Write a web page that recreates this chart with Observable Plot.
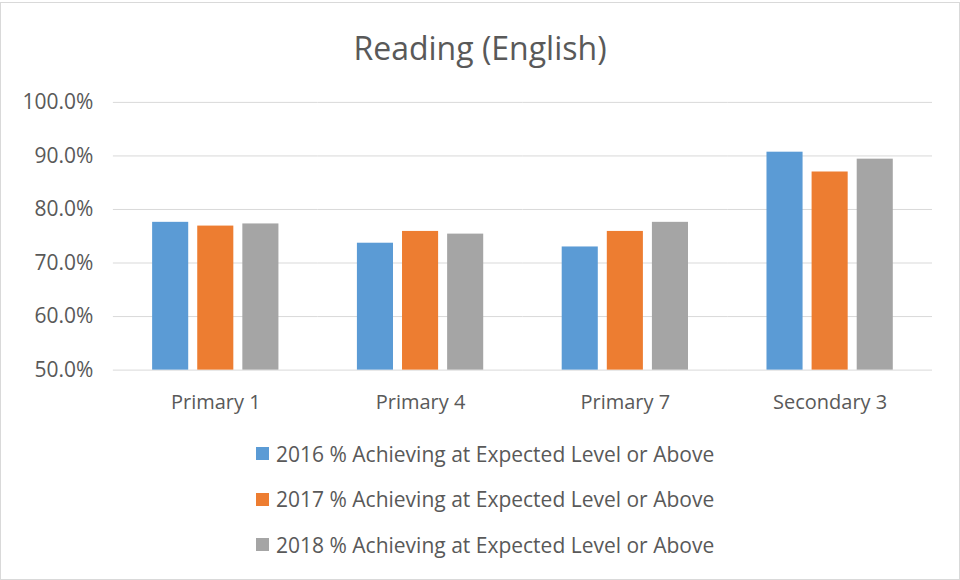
<!DOCTYPE html>
<html>
<head>
<meta charset="utf-8">
<script src="https://cdn.jsdelivr.net/npm/d3@7"></script>
<script src="https://cdn.jsdelivr.net/npm/@observablehq/plot@0.6"></script>
<style>
  html, body { margin: 0; padding: 0; background: #fff; }
  #frame { position: relative; width: 958px; height: 576px; border: 1px solid #d9d9d9; margin-top: 2px; font-family: "Open Sans", sans-serif; color: #595959; overflow: hidden; }
  #title { position: absolute; left: 0; width: 958px; top: 25px; text-align: center; font-size: 32px; line-height: 40px; }
  #chart { position: absolute; left: -1px; top: -3px; }
  #legend { position: absolute; left: 255px; top: 428px; }
  .item { display: flex; align-items: center; height: 45.5px; font-size: 21px; }
  .sw { width: 13px; height: 13px; margin-right: 7px; }
</style>
</head>
<body>
<div id="frame">
  <div id="title">Reading (English)</div>
  <div id="chart"></div>
  <div id="legend"></div>
</div>
<script>
const categories = ["Primary 1", "Primary 4", "Primary 7", "Secondary 3"];
const seriesNames = [
  "2016 % Achieving at Expected Level or Above",
  "2017 % Achieving at Expected Level or Above",
  "2018 % Achieving at Expected Level or Above"
];
const values2016 = [77.6, 73.7, 73.0, 90.7];
const values2017 = [76.9, 75.9, 75.9, 87.0];
const values2018 = [77.3, 75.4, 77.6, 89.4];
const colors = ["#5B9BD5", "#ED7D31", "#A5A5A5"];
const yTicks = [50, 60, 70, 80, 90, 100];
const baseline = 50;

const seriesValues = [values2016, values2017, values2018];
const data = [];
categories.forEach((c, i) => {
  seriesNames.forEach((s, j) => {
    data.push({category: c, series: s, value: seriesValues[j][i]});
  });
});

const chart = Plot.plot({
  width: 960,
  height: 420,
  marginLeft: 112,
  marginRight: 27,
  marginTop: 102,
  marginBottom: 50,
  style: {fontFamily: "Open Sans, sans-serif", fontSize: "20px", color: "#595959", background: "transparent"},
  fx: {domain: categories, padding: 0, label: null},
  x: {domain: seriesNames, paddingInner: 0.2, paddingOuter: 0.87, axis: null, round: false},
  y: {domain: [50, 100], label: null},
  color: {domain: seriesNames, range: colors},
  marks: [
    Plot.gridY(yTicks, {stroke: "#d9d9d9", strokeOpacity: 1, strokeWidth: 1}),
    Plot.axisY({ticks: yTicks, tickSize: 0, tickPadding: 20, tickFormat: d => d.toFixed(1) + "%", fill: "#595959", fontSize: 21, label: null}),
    Plot.axisFx({anchor: "bottom", tickSize: 0, tickPadding: 25, fill: "#595959", fontSize: 20, label: null}),
    Plot.barY(data, {fx: "category", x: "series", y1: baseline, y2: "value", fill: "series"})
  ]
});
document.getElementById("chart").appendChild(chart);

const legend = document.getElementById("legend");
seriesNames.forEach((s, j) => {
  const row = document.createElement("div");
  row.className = "item";
  const sw = document.createElement("span");
  sw.className = "sw";
  sw.style.background = colors[j];
  const t = document.createElement("span");
  t.textContent = s;
  row.appendChild(sw);
  row.appendChild(t);
  legend.appendChild(row);
});
</script>
</body>
</html>
